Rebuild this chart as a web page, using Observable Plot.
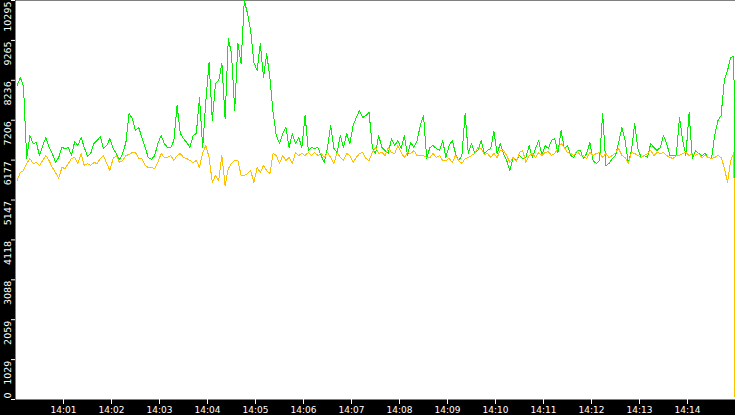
<!DOCTYPE html>
<html>
<head>
<meta charset="utf-8">
<script src="https://cdn.jsdelivr.net/npm/d3@7"></script>
<script src="https://cdn.jsdelivr.net/npm/@observablehq/plot@0.6"></script>
<style>
  html, body { margin: 0; padding: 0; background: #000; }
</style>
</head>
<body>
<div id="chart"></div>
<script>
// Sampling grid: first sample time and interval (seconds)
const startTime = "14:00:02";
const stepSeconds = 4;
const domainStart = "14:00:00";
const domainEnd = "14:15:00";

// Final sample (the sharp drop at the right edge)
const lastTime = "14:14:59.4";
const greenLast = 2941;
const orangeLast = 0;

const xTickLabels = ["14:01","14:02","14:03","14:04","14:05","14:06","14:07","14:08","14:09","14:10","14:11","14:12","14:13","14:14"];
const yTickLabels = [0, 1029, 2059, 3088, 4118, 5147, 6177, 7206, 8236, 9265, 10295];

const greenValues = [
  8101, 8308, 8075, 6218, 6811, 6605, 6631, 6295, 6553, 6760,
  6502, 6347, 6115, 6244, 6502, 6476, 6502, 6295, 6656, 6553,
  6760, 6502, 6269, 6347, 6605, 6682, 6785, 6476, 6553, 6734,
  6476, 6347, 6192, 6347, 6631, 7379, 7250, 6940, 7018, 6760,
  6502, 6244, 6192, 6295, 6605, 6811, 6605, 6502, 6502, 6682,
  7585, 6863, 6734, 6631, 6502, 6811, 6863, 7792, 6502, 7714,
  8695, 7198, 8153, 8230, 8669, 7250, 9314, 8927, 7456, 9185,
  8669, 10295, 9959, 9520, 8695, 8488, 9185, 8308, 8927, 8300,
  7400, 6811, 6605, 6863, 7018, 6502, 6863, 6605, 6760, 6502,
  7327, 6424, 6502, 6476, 6502, 6295, 6115, 6502, 7069, 6476,
  6373, 6811, 6502, 6863, 6605, 7069, 7276, 7456, 7276, 7327,
  7405, 6502, 6347, 6811, 6502, 6424, 6347, 6734, 6553, 6682,
  6476, 6811, 6295, 6631, 6502, 6682, 7069, 7327, 6218, 6502,
  6553, 6476, 6424, 6682, 6244, 6553, 6682, 6347, 6166, 6295,
  7379, 6347, 6600, 6373, 6424, 6682, 6347, 6424, 6476, 6914,
  6347, 6605, 6347, 6166, 5908, 6244, 6166, 6295, 6218, 6244,
  6553, 6244, 6476, 6682, 6295, 6553, 6476, 6682, 6734, 6373,
  6940, 6476, 6553, 6295, 6244, 6424, 6424, 6218, 6347, 6631,
  6166, 6089, 6166, 7379, 6037, 6089, 6218, 6295, 6631, 7018,
  6682, 6115, 6424, 7121, 6476, 6244, 6295, 6244, 6605, 6502,
  6424, 6502, 6811, 6605, 6295, 6295, 6295, 7276, 6682, 6295,
  7405, 6218, 6424, 6347, 6295, 6347, 6244, 6218, 6811, 7198,
  7327, 8230, 8488, 8824, 8850
];

const orangeValues = [
  5650, 5857, 5908, 6089, 6218, 6089, 6115, 6037, 6166, 6295,
  6166, 5986, 5857, 5702, 5986, 5960, 6089, 6218, 6244, 6089,
  6347, 6037, 6089, 6037, 6115, 6089, 6218, 6295, 6089, 5908,
  6218, 6295, 6115, 6166, 6295, 6321, 6373, 6373, 6218, 6218,
  6037, 5986, 5986, 5960, 6115, 6347, 6244, 6244, 6295, 6166,
  6295, 6347, 6244, 6218, 6166, 6115, 6166, 5986, 6373, 6553,
  6244, 5599, 5779, 5650, 6295, 5521, 5960, 6089, 6166, 6166,
  5779, 5780, 5831, 5908, 5599, 5986, 5857, 6037, 5908, 5831,
  6347, 6295, 6089, 6295, 6166, 6244, 6089, 6373, 6295, 6347,
  6295, 6373, 6295, 6373, 6295, 6347, 6244, 6373, 6244, 6089,
  6373, 6244, 6166, 6347, 6295, 6115, 6244, 6347, 6373, 6218,
  6166, 6373, 6502, 6347, 6373, 6295, 6502, 6373, 6347, 6553,
  6373, 6244, 6373, 6347, 6424, 6295, 6295, 6295, 6244, 6244,
  6347, 6244, 6295, 6166, 6166, 6218, 6115, 6295, 6166, 6089,
  6218, 6244, 6295, 6347, 6502, 6476, 6321, 6347, 6244, 6347,
  6244, 6424, 6424, 6295, 6115, 6244, 6140, 6373, 6424, 6115,
  6295, 6347, 6244, 6373, 6295, 6373, 6400, 6295, 6347, 6476,
  6605, 6502, 6373, 6347, 6295, 6424, 6295, 6295, 6218, 6373,
  6295, 6347, 6373, 6244, 6347, 6244, 6295, 6373, 6476, 6295,
  6244, 6089, 6373, 6347, 6295, 6244, 6295, 6347, 6424, 6295,
  6373, 6347, 6373, 6295, 6244, 6218, 6295, 6295, 6347, 6373,
  6295, 6347, 6295, 6347, 6244, 6295, 6244, 6218, 6244, 6295,
  6244, 5986, 5599, 6166, 6373
];

const parseClock = (s) => {
  const [h, m, sec] = s.split(":").map(Number);
  return new Date(Date.UTC(2020, 0, 1, h, m, 0) + (sec || 0) * 1000);
};
const t0 = parseClock(startTime);
const toSeries = (vals, last) => vals
  .map((v, i) => ({t: new Date(t0.getTime() + i * stepSeconds * 1000), v}))
  .concat([{t: parseClock(lastTime), v: last}]);
const green = toSeries(greenValues, greenLast);
const orange = toSeries(orangeValues, orangeLast);
const xTicks = xTickLabels.map(parseClock);

const chart = Plot.plot({
  width: 735,
  height: 415,
  marginLeft: 15,
  marginRight: 0,
  marginTop: 0,
  marginBottom: 16,
  style: {background: "#000", color: "#fff", fontFamily: "DejaVu Sans, Verdana, sans-serif", fontSize: "9px"},
  x: {type: "utc", domain: [parseClock(domainStart), parseClock(domainEnd)], axis: null, label: null},
  y: {domain: [0, 10295], axis: null, label: null},
  marks: [
    Plot.frame({fill: "#fff", stroke: null}),
    Plot.line(green, {x: "t", y: "v", stroke: "#00f000", strokeWidth: 1, shapeRendering: "crispEdges"}),
    Plot.line(orange, {x: "t", y: "v", stroke: "#ffc000", strokeWidth: 1, shapeRendering: "crispEdges"}),
    Plot.axisX({ticks: xTicks, label: null, tickSize: 5, tickPadding: 2, tickFormat: (d) => xTickLabels[xTicks.findIndex(t => +t === +d)], stroke: "#fff", fill: "#fff", fontSize: 9}),
    Plot.axisY({ticks: yTickLabels, label: null, tickSize: 4, tickFormat: () => "", stroke: "#fff"}),
    Plot.text(yTickLabels.filter(d => d > 0), {y: d => d, text: d => String(d), frameAnchor: "left", dx: -8, dy: 1, rotate: -90, textAnchor: "end", fill: "#fff", fontSize: 9.5}),
    Plot.text(yTickLabels.filter(d => d === 0), {y: d => d, text: d => String(d), frameAnchor: "left", dx: -8, dy: -1, rotate: -90, textAnchor: "start", fill: "#fff", fontSize: 9.5})
  ]
});
document.getElementById("chart").appendChild(chart);
</script>
</body>
</html>
